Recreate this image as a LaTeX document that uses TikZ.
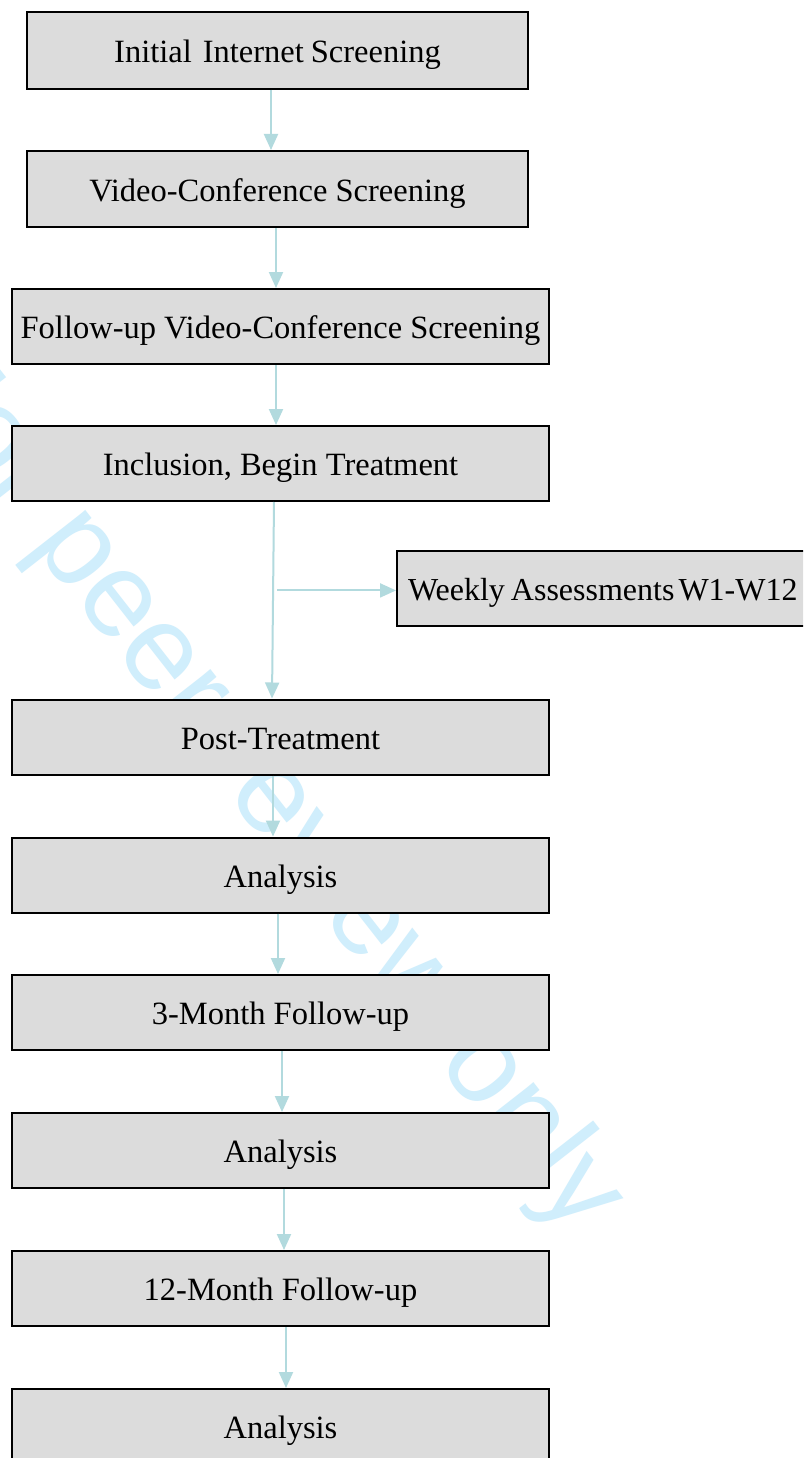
\documentclass[tikz,border=0pt]{standalone}
\usepackage{fontspec}
\setmainfont{Liberation Serif}
\newfontfamily\wmfont{Liberation Sans}
\usetikzlibrary{arrows.meta,calc}
\definecolor{boxfill}{RGB}{220,220,220}
\definecolor{arrcol}{RGB}{178,218,222}
\definecolor{wmcol}{RGB}{208,238,252}
\tikzset{
  flowbox/.style={draw=black, line width=2pt, fill=boxfill, inner sep=0pt,
    minimum width=537pt, minimum height=75pt, align=center,
    text height=24pt, text depth=0pt,
    font=\fontsize{32.5}{36}\selectfont},
  narrowbox/.style={flowbox, minimum width=501pt, minimum height=77pt},
  arr/.style={draw=arrcol, line width=2pt, -{Triangle[width=14pt,length=16pt]}, arrcol}
}
\begin{document}
\begin{tikzpicture}[x=1pt,y=-1pt]
\clip (0,0) rectangle (803,1458);
\fill[white] (0,0) rectangle (803,1458);
% watermark
\node[anchor=base, rotate=-52, text=wmcol, inner sep=0pt,
  font=\wmfont\fontsize{121}{124}\selectfont] (wm) at (236,806) {For peer review only};
% boxes
\node[narrowbox] (b1) at (277.5,50.5) {Initial\hspace{11pt}Internet\hspace{7pt}Screening};
\node[narrowbox, minimum height=76pt] (b2) at (277.5,189) {Video-Conference Screening};
\node[flowbox] (b3) at (280.5,326.5) {Follow-up Video-Conference Screening};
\node[flowbox] (b4) at (280.5,463.5) {Inclusion, Begin Treatment};
\node[flowbox, anchor=west, minimum width=460pt, text width=440pt, align=left, inner xsep=11pt,
  font=\fontsize{32}{36}\selectfont] (w) at (396,588.5) {Weekly\hspace{6pt}Assessments\hspace{4pt}W1-W12};
\node[flowbox] (p) at (280.5,737) {Post-Treatment};
\node[flowbox] (a1) at (280.5,875) {Analysis};
\node[flowbox] (m3) at (280.5,1012.5) {3-Month Follow-up};
\node[flowbox] (a2) at (280.5,1150.5) {Analysis};
\node[flowbox] (m12) at (280.5,1288.5) {12-Month Follow-up};
\node[flowbox] (a3) at (280.5,1426.5) {Analysis};
% arrows
\draw[arr] ([xshift=-6.5pt]b1.south) -- ([xshift=-6.5pt]b2.north);
\draw[arr] ([xshift=-1.5pt]b2.south) -- ([xshift=-4.5pt]b3.north);
\draw[arr] ([xshift=-4.5pt]b3.south) -- ([xshift=-4.5pt]b4.north);
\draw[arr] ([xshift=-6.5pt]b4.south) -- ([xshift=-8.5pt]p.north);
\coordinate (brs) at ([xshift=-3.5pt]$(b4.south)!0.45!(p.north)$);
\draw[arr] (brs) -- (brs -| w.west);
\draw[arr] ([xshift=-7.5pt]p.south) -- ([xshift=-7.5pt]a1.north);
\draw[arr] ([xshift=-2.5pt]a1.south) -- ([xshift=-2.5pt]m3.north);
\draw[arr] ([xshift=1.5pt]m3.south) -- ([xshift=1.5pt]a2.north);
\draw[arr] ([xshift=3.5pt]a2.south) -- ([xshift=3.5pt]m12.north);
\draw[arr] ([xshift=5.5pt]m12.south) -- ([xshift=5.5pt]a3.north);
\end{tikzpicture}
\end{document}
